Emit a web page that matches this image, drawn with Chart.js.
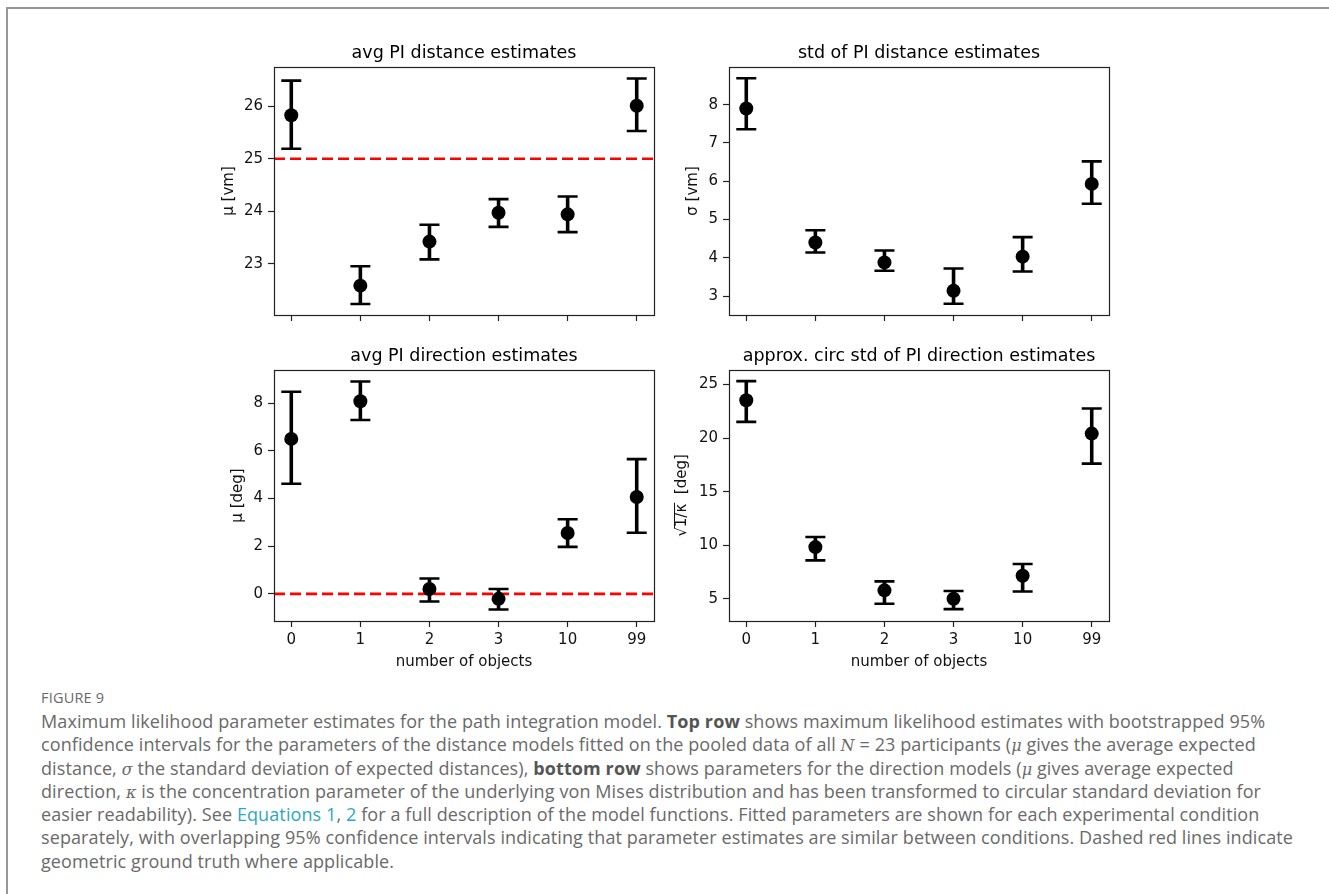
<!DOCTYPE html>
<html>
<head>
<meta charset="utf-8">
<script src="https://cdn.jsdelivr.net/npm/chart.js@4.4.0/dist/chart.umd.min.js"></script>
<style>
  html, body { margin: 0; padding: 0; background: #fff; }
  body { width: 1329px; height: 894px; position: relative; overflow: hidden; }
  .frame { position: absolute; left: 6px; top: 7px; right: -4px; bottom: -4px;
           border-top: 2px solid #979797; border-left: 2px solid #979797; }
  .plot { position: absolute; }
  .fig-label { position: absolute; left: 41px; top: 688px; font-family: "Open Sans", sans-serif;
               font-size: 14.5px; color: #6a6a6a; letter-spacing: 0.2px; }
  .caption { position: absolute; left: 41px; top: 710px; font-family: "Open Sans", sans-serif;
             font-size: 18px; line-height: 23.3px; letter-spacing: 0.1px; color: #6a6a6a; white-space: nowrap; }
  .caption b { color: #555; font-weight: 700; }
  .caption .m { font-family: "DejaVu Serif", serif; font-style: italic; font-size: 16px; line-height: 0; }
  .caption a { color: #2aa8c5; text-decoration: none; }
</style>
</head>
<body>
<div class="frame"></div>

<div class="plot" style="left:194px; top:27px;"><canvas id="distMuChart" width="540" height="302"></canvas></div>
<div class="plot" style="left:649px; top:27px;"><canvas id="distSdChart" width="540" height="302"></canvas></div>
<div class="plot" style="left:194px; top:330px;"><canvas id="dirMuChart" width="540" height="346"></canvas></div>
<div class="plot" style="left:649px; top:330px;"><canvas id="dirSdChart" width="540" height="346"></canvas></div>

<div class="fig-label">FIGURE 9</div>
<div class="caption">
Maximum likelihood parameter estimates for the path integration model. <b>Top row</b> shows maximum likelihood estimates with bootstrapped 95%<br>
confidence intervals for the parameters of the distance models fitted on the pooled data of all <span class="m">N</span> = 23 participants (<span class="m">μ</span> gives the average expected<br>
distance, <span class="m">σ</span> the standard deviation of expected distances), <b>bottom row</b> shows parameters for the direction models (<span class="m">μ</span> gives average expected<br>
direction, <span class="m">κ</span> is the concentration parameter of the underlying von Mises distribution and has been transformed to circular standard deviation for<br>
easier readability). See <a>Equations 1</a>, <a>2</a> for a full description of the model functions. Fitted parameters are shown for each experimental condition<br>
separately, with overlapping 95% confidence intervals indicating that parameter estimates are similar between conditions. Dashed red lines indicate<br>
geometric ground truth where applicable.
</div>

<script>
// number of objects (x categories)
const categories = ['0', '1', '2', '3', '10', '99'];
const xMin = -0.25, xMax = 5.25;

// avg PI distance estimates (mu, vm)
const distMu   = [25.83, 22.58, 23.42, 23.97, 23.94, 26.01];
const distMuLo = [25.19, 22.23, 23.08, 23.70, 23.60, 25.53];
const distMuHi = [26.49, 22.95, 23.74, 24.23, 24.28, 26.53];
const distMuTicks = [23, 24, 25, 26];
const distMuRange = [22.02, 26.75];
const distTruth = 25;

// std of PI distance estimates (sigma, vm)
const distSd   = [7.90, 4.40, 3.88, 3.14, 4.03, 5.93];
const distSdLo = [7.36, 4.14, 3.66, 2.80, 3.64, 5.41];
const distSdHi = [8.69, 4.72, 4.19, 3.72, 4.54, 6.52];
const distSdTicks = [3, 4, 5, 6, 7, 8];
const distSdRange = [2.505, 8.985];

// avg PI direction estimates (mu, deg)
const dirMu   = [6.50, 8.08, 0.20, -0.21, 2.55, 4.06];
const dirMuLo = [4.62, 7.29, -0.32, -0.66, 1.97, 2.56];
const dirMuHi = [8.48, 8.91, 0.64, 0.20, 3.13, 5.65];
const dirMuTicks = [0, 2, 4, 6, 8];
const dirMuRange = [-1.14, 9.39];
const dirTruth = 0;

// approx. circ std of PI direction estimates (sqrt(1/kappa), deg)
const dirSd   = [23.54, 9.82, 5.78, 5.00, 7.15, 20.42];
const dirSdLo = [21.52, 8.58, 4.53, 4.03, 5.67, 17.62];
const dirSdHi = [25.32, 10.76, 6.62, 5.72, 8.25, 22.76];
const dirSdTicks = [5, 10, 15, 20, 25];
const dirSdRange = [2.92, 26.36];

const FONT = 'DejaVu Sans';
const LABEL_SIZE = 15;

// error bars with caps, placed via the chart scales
const errorBars = {
    id: 'errorBars',
    afterDatasetsDraw(chart, args, opts) {
        const { ctx, scales: { x, y } } = chart;
        ctx.save();
        ctx.strokeStyle = '#000';
        ctx.lineCap = 'butt';
        opts.lo.forEach((lo, i) => {
            const px = x.getPixelForValue(i);
            const y1 = y.getPixelForValue(lo);
            const y2 = y.getPixelForValue(opts.hi[i]);
            ctx.lineWidth = 3.6;
            ctx.beginPath();
            ctx.moveTo(px, y1);
            ctx.lineTo(px, y2);
            ctx.stroke();
            ctx.lineWidth = 2.6;
            ctx.beginPath();
            ctx.moveTo(px - 10, y1); ctx.lineTo(px + 10, y1);
            ctx.moveTo(px - 10, y2); ctx.lineTo(px + 10, y2);
            ctx.stroke();
        });
        ctx.restore();
    }
};

// axes box around the plot area
const axesBox = {
    id: 'axesBox',
    afterDraw(chart) {
        const { ctx, chartArea: a } = chart;
        ctx.save();
        ctx.strokeStyle = '#222';
        ctx.lineWidth = 1.2;
        ctx.strokeRect(Math.round(a.left) + 0.5, Math.round(a.top) + 0.5,
                       Math.round(a.right - a.left), Math.round(a.bottom - a.top));
        ctx.restore();
    }
};

// vinculum over "1/κ" in the sqrt axis label
const sqrtBar = {
    id: 'sqrtBar',
    afterDraw(chart, args, opts) {
        if (!opts.on) return;
        const y = chart.scales.y;
        const t = y.options.title;
        const ctx = chart.ctx;
        ctx.save();
        ctx.font = LABEL_SIZE + 'px "' + FONT + '"';
        const full = ctx.measureText(t.text).width;
        const root = ctx.measureText('√').width;
        const inner = ctx.measureText('√1/κ').width;
        const cx = y.left + t.padding.top + LABEL_SIZE * 1.2 / 2;
        const cy = (y.top + y.bottom) / 2;
        ctx.translate(cx, cy);
        ctx.rotate(-Math.PI / 2);
        ctx.strokeStyle = '#111';
        ctx.lineWidth = 1;
        ctx.beginPath();
        ctx.moveTo(-full / 2 + root - 1, -7.5);
        ctx.lineTo(-full / 2 + inner + 1, -7.5);
        ctx.stroke();
        ctx.restore();
    }
};

function makeChart(id, cfg) {
    const datasets = [{
        data: cfg.values.map((v, i) => ({ x: i, y: v })),
        pointRadius: 7,
        pointHoverRadius: 7,
        pointBackgroundColor: '#000',
        pointBorderWidth: 0
    }];
    if (cfg.truth !== undefined) {
        datasets.push({
            type: 'line',
            data: [{ x: xMin, y: cfg.truth }, { x: xMax, y: cfg.truth }],
            borderColor: '#ff0000',
            borderWidth: 2.6,
            borderDash: [11, 5],
            pointRadius: 0,
            fill: false
        });
    }

    return new Chart(document.getElementById(id), {
        type: 'scatter',
        data: { datasets },
        plugins: [errorBars, axesBox, sqrtBar],
        options: {
            responsive: false,
            animation: false,
            events: [],
            layout: { padding: 0 },
            plugins: {
                legend: { display: false },
                tooltip: { enabled: false },
                title: {
                    display: true,
                    text: cfg.title,
                    color: '#000',
                    font: { family: FONT, size: 17.5, weight: 'normal' },
                    padding: { top: 16, bottom: 3 }
                },
                errorBars: { lo: cfg.lo, hi: cfg.hi },
                sqrtBar: { on: !!cfg.sqrt }
            },
            scales: {
                x: {
                    type: 'linear',
                    min: xMin,
                    max: xMax,
                    afterBuildTicks: axis => { axis.ticks = categories.map((c, i) => ({ value: i })); },
                    afterFit: axis => { axis.height = cfg.bottom ? 55 : 10; },
                    border: { display: false },
                    grid: { drawOnChartArea: false, drawTicks: true, tickLength: 6, tickColor: '#222', tickWidth: 1.2 },
                    ticks: {
                        display: !!cfg.bottom,
                        autoSkip: false,
                        maxRotation: 0,
                        padding: 4,
                        color: '#111',
                        font: { family: FONT, size: LABEL_SIZE },
                        callback: v => categories[v]
                    },
                    title: {
                        display: !!cfg.bottom,
                        text: 'number of objects',
                        color: '#111',
                        font: { family: FONT, size: LABEL_SIZE },
                        padding: { top: 0, bottom: 5 }
                    }
                },
                y: {
                    min: cfg.range[0],
                    max: cfg.range[1],
                    afterBuildTicks: axis => { axis.ticks = cfg.ticks.map(v => ({ value: v })); },
                    afterFit: axis => { axis.width = 80; },
                    border: { display: false },
                    grid: { drawOnChartArea: false, drawTicks: true, tickLength: 6, tickColor: '#222', tickWidth: 1.2 },
                    ticks: {
                        autoSkip: false,
                        padding: 5,
                        color: '#111',
                        font: { family: FONT, size: LABEL_SIZE }
                    },
                    title: {
                        display: true,
                        text: cfg.ylabel,
                        color: '#111',
                        font: { family: FONT, size: LABEL_SIZE },
                        padding: { top: cfg.ylabelPad, bottom: 0 }
                    }
                },
                // empty right-hand spacer so the title centres over the axes
                spacer: {
                    position: 'right',
                    display: true,
                    afterFit: axis => { axis.width = 80; },
                    border: { display: false },
                    grid: { display: false },
                    ticks: { display: false }
                }
            }
        }
    });
}

makeChart('distMuChart', {
    title: 'avg PI distance estimates', ylabel: 'μ [vm]',
    values: distMu, lo: distMuLo, hi: distMuHi,
    ticks: distMuTicks, range: distMuRange, truth: distTruth, ylabelPad: 26
});
makeChart('distSdChart', {
    title: 'std of PI distance estimates', ylabel: 'σ [vm]',
    values: distSd, lo: distSdLo, hi: distSdHi,
    ticks: distSdTicks, range: distSdRange, ylabelPad: 35
});
makeChart('dirMuChart', {
    title: 'avg PI direction estimates', ylabel: 'μ [deg]',
    values: dirMu, lo: dirMuLo, hi: dirMuHi,
    ticks: dirMuTicks, range: dirMuRange, truth: dirTruth, ylabelPad: 35, bottom: true
});
makeChart('dirSdChart', {
    title: 'approx. circ std of PI direction estimates', ylabel: '√1/κ  [deg]',
    values: dirSd, lo: dirSdLo, hi: dirSdHi,
    ticks: dirSdTicks, range: dirSdRange, ylabelPad: 24, bottom: true, sqrt: true
});
</script>
</body>
</html>
